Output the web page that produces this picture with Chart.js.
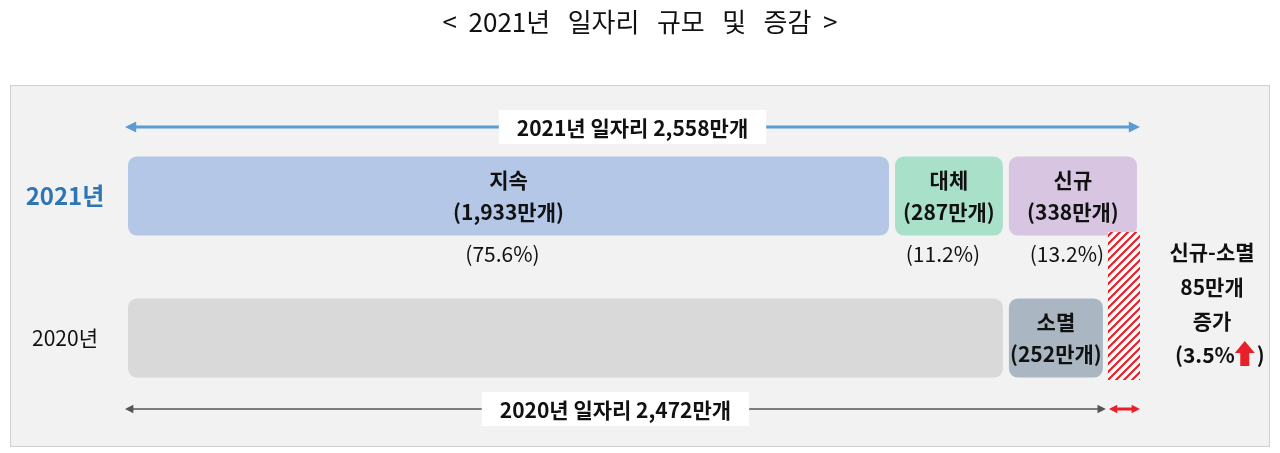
<!DOCTYPE html>
<html><head><meta charset="utf-8">
<script src="https://cdn.jsdelivr.net/npm/chart.js@4"></script>
<style>body{margin:0;background:#fff}#w{width:1280px;height:453px;position:relative}</style>
</head><body><div id="w"><canvas id="c"></canvas></div>
<script>
const rows = ['2021년', '2020년'];
const seg1 = [1933, 2220];
const seg2 = [287, 252];
const seg3 = [338, 0];
const seg1Labels = [['지속', '(1,933만개)'], ['', '']];
const seg2Labels = [['대체', '(287만개)'], ['소멸', '(252만개)']];
const seg3Labels = [['신규', '(338만개)'], ['', '']];
const shareLabels = ['(75.6%)', '(11.2%)', '(13.2%)'];
const total2021 = 2558, total2020 = 2472, netGain = 85;
const F = '"Noto Sans CJK KR","Noto Sans",sans-serif';
const PANEL = '#f2f2f2';

function hatch(ctx){
  const p=document.createElement('canvas');p.width=8;p.height=8;
  const g=p.getContext('2d');g.fillStyle='#fff';g.fillRect(0,0,8,8);
  g.strokeStyle='#e8202a';g.lineWidth=2.2;
  g.beginPath();g.moveTo(-2,10);g.lineTo(10,-2);g.moveTo(-2,2);g.lineTo(2,-2);g.moveTo(6,10);g.lineTo(10,6);g.stroke();
  return ctx.createPattern(p,'repeat');
}
function arrowLine(ctx,x1,x2,y,col,w,head){
  ctx.strokeStyle=col;ctx.fillStyle=col;ctx.lineWidth=w;
  ctx.beginPath();ctx.moveTo(x1+head,y);ctx.lineTo(x2-head,y);ctx.stroke();
  ctx.beginPath();ctx.moveTo(x1,y);ctx.lineTo(x1+head*1.4,y-head*0.7);ctx.lineTo(x1+head*1.4,y+head*0.7);ctx.fill();
  ctx.beginPath();ctx.moveTo(x2,y);ctx.lineTo(x2-head*1.4,y-head*0.7);ctx.lineTo(x2-head*1.4,y+head*0.7);ctx.fill();
}
function labelBox(ctx,txt,x,y,size){
  ctx.font='bold '+size+'px '+F;const w=ctx.measureText(txt).width+36;
  ctx.fillStyle='#fff';ctx.fillRect(x-w/2,y-17,w,34);
  ctx.fillStyle='#111';ctx.textAlign='center';ctx.textBaseline='middle';ctx.fillText(txt,x,y+1);
}
const deco = {
  id:'deco',
  beforeDraw(ch){
    const c=ch.ctx;c.save();
    c.fillStyle='#fff';c.fillRect(0,0,1280,453);
    c.fillStyle='#111';c.font='26px '+F;c.textAlign='center';c.textBaseline='middle';
    c.fillText('<  2021년   일자리   규모   및   증감  >',640,22);
    c.fillStyle=PANEL;c.fillRect(10,85,1260,362);
    c.strokeStyle='#d0d0d0';c.lineWidth=1;c.strokeRect(10.5,85.5,1259,361);
    c.restore();
  },
  afterDatasetsDraw(ch){
    const c=ch.ctx, x=ch.scales.x, y=ch.scales.y;c.save();
    const y0=y.getPixelForValue(0), y1=y.getPixelForValue(1);
    const hx1=x.getPixelForValue(total2020), hx2=x.getPixelForValue(total2021);
    c.fillStyle=hatch(c);c.fillRect(hx1+2,232,hx2-hx1-2,148);
    arrowLine(c,x.getPixelForValue(0),hx2,127,'#5b9bd5',3,8);
    labelBox(c,'2021년 일자리 2,558만개',(x.getPixelForValue(0)+hx2)/2,127,21);
    arrowLine(c,x.getPixelForValue(0),hx1,409,'#555',1.5,6);
    labelBox(c,'2020년 일자리 2,472만개',(x.getPixelForValue(0)+hx1)/2,409,21);
    arrowLine(c,hx1+3,hx2,409,'#e8202a',3,6);
    c.textAlign='center';c.textBaseline='middle';
    c.font='bold 24px '+F;c.fillStyle='#2e75b6';c.fillText(rows[0],65,y0);
    c.font='21px '+F;c.fillStyle='#111';c.fillText(rows[1],65,y1);
    c.font='bold 21px '+F;c.fillStyle='#111';
    const sets=[[seg1,seg1Labels],[seg2,seg2Labels],[seg3,seg3Labels]];
    for(let r=0;r<2;r++){let acc=0;
      sets.forEach(([d,l],i)=>{const a=acc;acc+=d[r];
        const cx=(x.getPixelForValue(a)+x.getPixelForValue(acc))/2, cy=y.getPixelForValue(r);
        if(l[r][0]){c.fillText(l[r][0],cx,cy-16);c.fillText(l[r][1],cx,cy+16);}
        if(r===0){c.font='21px '+F;c.fillText(shareLabels[i],cx-6,254);c.font='bold 21px '+F;}
      });}
    c.font='bold 21px '+F;const rx=1212;
    c.fillText('신규-소멸',rx,252);c.fillText(netGain+'만개',rx,287);c.fillText('증가',rx,321);
    c.textAlign='left';const t='(3.5%';const tw=c.measureText(t).width;const sx=1175;
    c.fillText(t,sx,355);
    const ax=sx+tw+10;c.fillStyle='#e8202a';c.beginPath();c.moveTo(ax,341);c.lineTo(ax+10,353);c.lineTo(ax+4.5,353);c.lineTo(ax+4.5,366);c.lineTo(ax-4.5,366);c.lineTo(ax-4.5,353);c.lineTo(ax-10,353);c.fill();
    c.fillStyle='#111';c.fillText(')',ax+12,355);
    c.restore();
  }
};
const R={topLeft:12,topRight:12,bottomLeft:12,bottomRight:12};
new Chart(document.getElementById('c'),{
  type:'bar',
  data:{labels:rows,datasets:[
    {data:seg1,backgroundColor:['#b4c7e7','#d9d9d9']},
    {data:seg2,backgroundColor:['#a9e0c9','#aab7c2']},
    {data:seg3,backgroundColor:['#d7c5e2','#d9d9d9']}
  ].map(d=>Object.assign(d,{borderRadius:R,borderSkipped:false,borderWidth:3,borderColor:PANEL,barPercentage:0.6,categoryPercentage:1}))},
  options:{indexAxis:'y',responsive:true,maintainAspectRatio:false,animation:false,devicePixelRatio:1,
    layout:{padding:{left:125,right:140,top:125,bottom:44}},
    plugins:{legend:{display:false},tooltip:{enabled:false}},
    scales:{x:{stacked:true,min:0,max:total2021,display:false},y:{stacked:true,display:false}}},
  plugins:[deco]
});
</script></body></html>
